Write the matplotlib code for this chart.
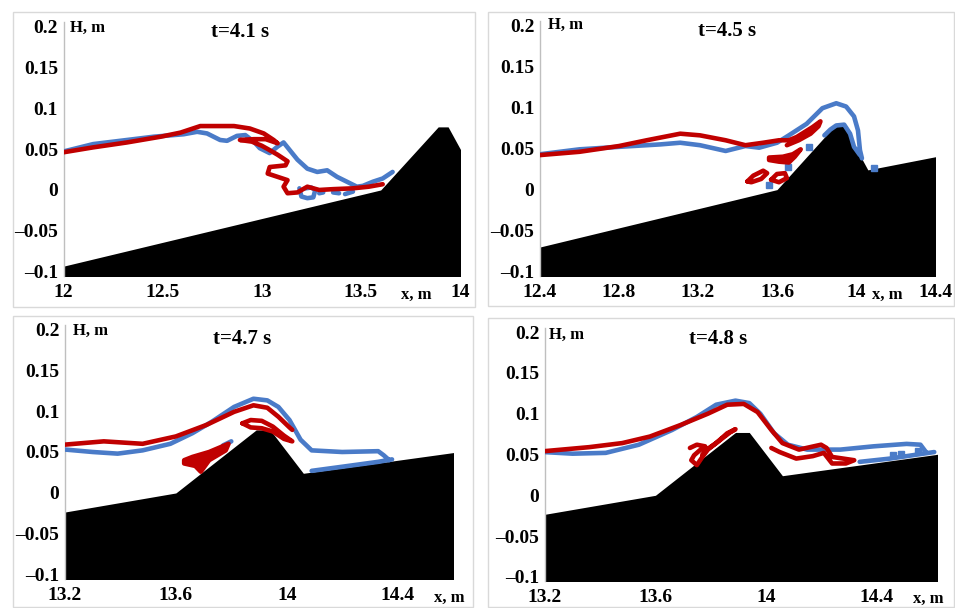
import numpy as np
import matplotlib
matplotlib.use("Agg")
import matplotlib.pyplot as plt
from matplotlib.patches import Rectangle

nan = np.nan

# ---------------- data ----------------
TITLES = ["t=4.1 s", "t=4.5 s", "t=4.7 s", "t=4.8 s"]
XLIMS = [(12.0, 14.0), (12.4, 14.4), (13.2, 14.6), (13.2, 14.62)]
XTICKS = [[12, 12.5, 13, 13.5, 14],
          [12.4, 12.8, 13.2, 13.6, 14, 14.4],
          [13.2, 13.6, 14, 14.4],
          [13.2, 13.6, 14, 14.4]]
XTICKLABELS = [["12", "12.5", "13", "13.5", "14"],
               ["12.4", "12.8", "13.2", "13.6", "14", "14.4"],
               ["13.2", "13.6", "14", "14.4"],
               ["13.2", "13.6", "14", "14.4"]]
YTICKS = [-0.1, -0.05, 0, 0.05, 0.1, 0.15, 0.2]
YTICKLABELS = ["\u20130.1", "\u20130.05", "0", "0.05", "0.1", "0.15", "0.2"]

# bottom profile (black)
BOTTOM_X = [11.9, 12.0, 13.6, 13.89, 13.94, 14.06, 14.7]
BOTTOM_Y = [-0.0988, -0.093, 0.0, 0.077, 0.077, 0.024, 0.0539]

# panel 1, t=4.1 s
P1_BLUE_X = [12.0, 12.15, 12.32, 12.455, 12.606, 12.674, 12.724, 12.79, 12.825, 12.875, 12.917, 12.96,
             12.99, 13.04, 13.08, 13.11, 13.14, 13.18, 13.23, 13.28, 13.33, 13.38, 13.43, 13.48, 13.51,
             13.56, 13.61, 13.66,
             nan, 13.19, 13.20, 13.23, 13.26, 13.27, 13.25, 13.22,
             nan, 13.29, 13.31, nan, 13.36, 13.39, nan, 13.42, 13.46]
P1_BLUE_Y = [0.047, 0.056, 0.061, 0.065, 0.068, 0.071, 0.069, 0.061, 0.060, 0.066, 0.067, 0.059,
             0.051, 0.045, 0.053, 0.058, 0.049, 0.037, 0.026, 0.022, 0.024, 0.016, 0.010, 0.004, 0.005,
             0.010, 0.014, 0.022,
             nan, 0.002, -0.008, -0.010, -0.009, 0.000, 0.003, 0.002,
             nan, -0.004, -0.003, nan, -0.003, -0.004, nan, -0.005, -0.002]
P1_RED_X = [12.0, 12.15, 12.32, 12.49, 12.59, 12.69, 12.86, 12.94, 13.01, 13.06, 13.08, 13.02, 12.96,
            12.89, 12.95, 13.00, 13.03, 13.08, 13.13, 13.12, 13.04, 13.03, 13.08, 13.13, 13.11, 13.13,
            13.18, 13.23, 13.29, 13.36, 13.46, 13.54, 13.61]
P1_RED_Y = [0.046, 0.052, 0.058, 0.065, 0.070, 0.078, 0.078, 0.075, 0.069, 0.061, 0.057, 0.062, 0.062,
            0.061, 0.059, 0.054, 0.050, 0.043, 0.035, 0.030, 0.028, 0.020, 0.016, 0.012, 0.004, -0.004,
            -0.003, 0.004, 0.000, 0.001, 0.002, 0.004, 0.007]

# panel 2, t=4.5 s
P2_BLUE_X = [12.4, 12.6, 12.8, 13.01, 13.11, 13.21, 13.34, 13.44, 13.51, 13.60, 13.66, 13.75, 13.83,
             13.90, 13.95, 13.99, 14.01, 14.02, 14.03,
             nan, 13.84, 13.87, 13.90, 13.94, 13.97, 13.99, 14.02]
P2_BLUE_Y = [0.043, 0.049, 0.052, 0.055, 0.057, 0.054, 0.047, 0.053, 0.051, 0.057, 0.066, 0.080, 0.099,
             0.105, 0.101, 0.089, 0.072, 0.048, 0.038,
             nan, 0.066, 0.073, 0.078, 0.079, 0.068, 0.052, 0.042]
P2_BLUE_DOTS_X = [13.56, 13.654, 13.764, 14.09]
P2_BLUE_DOTS_Y = [0.006, 0.028, 0.052, 0.026]
P2_RED_X = [12.4, 12.6, 12.8, 12.94, 13.11, 13.21, 13.34, 13.44, 13.53, 13.61, 13.66, 13.70, 13.78,
            13.82, 13.81, 13.77, 13.71, 13.65]
P2_RED_Y = [0.042, 0.046, 0.053, 0.060, 0.068, 0.066, 0.060, 0.054, 0.057, 0.060, 0.060, 0.064, 0.076,
            0.083, 0.077, 0.068, 0.060, 0.054]
P2_RED_BLOB1_X = [13.56, 13.63, 13.68, 13.72, 13.69, 13.66, 13.61, 13.56]
P2_RED_BLOB1_Y = [0.039, 0.040, 0.043, 0.049, 0.040, 0.033, 0.034, 0.036]
P2_RED_LOOPS_X = [13.45, 13.48, 13.53, 13.55, 13.52, 13.47, 13.45,
                  nan, 13.57, 13.60, 13.64, 13.65, 13.61, 13.57]
P2_RED_LOOPS_Y = [0.010, 0.017, 0.023, 0.020, 0.013, 0.009, 0.010,
                  nan, 0.012, 0.019, 0.020, 0.014, 0.009, 0.012]

# panel 3, t=4.7 s
P3_BLUE_X = [13.2, 13.30, 13.39, 13.48, 13.58, 13.66, 13.73, 13.81, 13.88, 13.93, 13.97, 14.01, 14.05,
             14.09, 14.20, 14.33, 14.35, 14.37,
             nan, 14.09, 14.20, 14.33, 14.38,
             nan, 13.77, 13.80]
P3_BLUE_Y = [0.053, 0.050, 0.048, 0.052, 0.060, 0.073, 0.087, 0.105, 0.115, 0.113, 0.105, 0.089, 0.065,
             0.052, 0.050, 0.051, 0.046, 0.040,
             nan, 0.027, 0.032, 0.038, 0.041,
             nan, 0.058, 0.063]
P3_RED_X = [13.2, 13.34, 13.48, 13.60, 13.71, 13.81, 13.88, 13.93, 13.97, 14.01, 14.02,
            nan, 13.84, 13.87, 13.91, 13.95, 13.99, 14.02, 13.99, 13.95, 13.91, 13.87, 13.84]
P3_RED_Y = [0.059, 0.063, 0.060, 0.069, 0.083, 0.099, 0.107, 0.104, 0.093, 0.080, 0.077,
            nan, 0.085, 0.089, 0.088, 0.081, 0.070, 0.063, 0.066, 0.075, 0.079, 0.080, 0.085]
P3_RED_BLOB_X = [13.63, 13.66, 13.72, 13.79, 13.78, 13.72, 13.69, 13.67, 13.63]
P3_RED_BLOB_Y = [0.040, 0.044, 0.050, 0.060, 0.052, 0.040, 0.026, 0.033, 0.036]

# panel 4, t=4.8 s
P4_BLUE_X = [13.195, 13.30, 13.42, 13.54, 13.66, 13.75, 13.82, 13.89, 13.94, 13.98, 14.03, 14.08, 14.15,
             14.27, 14.39, 14.51, 14.56, 14.58,
             nan, 14.34, 14.45, 14.55, 14.61]
P4_BLUE_Y = [0.053, 0.051, 0.052, 0.062, 0.080, 0.096, 0.111, 0.116, 0.113, 0.100, 0.076, 0.062, 0.056,
             0.056, 0.060, 0.063, 0.062, 0.053,
             nan, 0.041, 0.045, 0.050, 0.053]
P4_BLUE_DOTS_X = [14.46, 14.49, 14.55]
P4_BLUE_DOTS_Y = [0.049, 0.050, 0.054]
P4_RED_X = [13.195, 13.36, 13.48, 13.58, 13.69, 13.79, 13.86, 13.92, 13.97, 14.02, 14.06, 14.12, 14.20,
            14.22, 14.24, 14.28, 14.32, 14.29, 14.24, 14.21, 14.17, 14.11, 14.05, 14.02,
            nan, 13.725, 13.75, 13.78, 13.76, 13.74, 13.73, 13.75, 13.77, 13.79, 13.82, 13.86, 13.89,
            13.87, 13.82, 13.79, 13.77]
P4_RED_Y = [0.054, 0.059, 0.064, 0.072, 0.086, 0.100, 0.111, 0.112, 0.102, 0.080, 0.064, 0.056, 0.062,
            0.058, 0.047, 0.045, 0.043, 0.039, 0.039, 0.052, 0.048, 0.045, 0.053, 0.058,
            nan, 0.058, 0.062, 0.060, 0.055, 0.049, 0.043, 0.037, 0.047, 0.056, 0.064, 0.076, 0.081,
            0.077, 0.064, 0.057, 0.050]

BLUE_X = [P1_BLUE_X, P2_BLUE_X, P3_BLUE_X, P4_BLUE_X]
BLUE_Y = [P1_BLUE_Y, P2_BLUE_Y, P3_BLUE_Y, P4_BLUE_Y]
RED_X = [P1_RED_X, P2_RED_X, P3_RED_X, P4_RED_X]
RED_Y = [P1_RED_Y, P2_RED_Y, P3_RED_Y, P4_RED_Y]
DOTS = {1: (P2_BLUE_DOTS_X, P2_BLUE_DOTS_Y), 3: (P4_BLUE_DOTS_X, P4_BLUE_DOTS_Y)}
RED_BLOBS = {1: [(P2_RED_BLOB1_X, P2_RED_BLOB1_Y)], 2: [(P3_RED_BLOB_X, P3_RED_BLOB_Y)]}
RED_EXTRA = {1: (P2_RED_LOOPS_X, P2_RED_LOOPS_Y)}

# ---------------- layout ----------------
W, H = 955, 608
BLUE = "#4A7BC8"
RED = "#C00000"
FONT = "Liberation Serif"
LW = 3.3

# axes boxes in pixels: left, right, top, bottom
AX_PX = [(63.5, 460, 22, 276), (540, 935, 21, 276), (65, 453, 325, 579), (545, 937, 328, 581)]
FRAME_PX = [(13, 12, 475, 307), (488, 12, 954, 306), (13, 316, 473, 607), (488, 318, 954, 607)]
TITLE_POS = [(0.445, 0.96), (0.473, 0.962), (0.457, 0.946), (0.442, 0.958)]
HLAB_POS = [(0.016, 0.977), (0.021, 0.984), (0.02, 0.976), (0.011, 0.971)]
XLAB_POS = [(0.889, -0.075), (0.88, -0.074), (0.991, -0.075), (0.978, -0.069)]

fig = plt.figure(figsize=(W / 100, H / 100), dpi=100)
fig.patch.set_facecolor("white")

for (x0, y0, x1, y1) in FRAME_PX:
    fig.add_artist(Rectangle((x0 / W, 1 - y1 / H), (x1 - x0) / W, (y1 - y0) / H,
                             transform=fig.transFigure, fill=False, edgecolor="#D9D9D9", lw=1.0))

for i in range(4):
    l, r, t, b = AX_PX[i]
    ax = fig.add_axes([l / W, 1 - b / H, (r - l) / W, (b - t) / H])
    ax.set_xlim(*XLIMS[i])
    ax.set_ylim(-0.105, 0.205)
    ax.fill_between(BOTTOM_X, BOTTOM_Y, -0.2, color="black", lw=0, zorder=1)
    ax.plot(BLUE_X[i], BLUE_Y[i], color=BLUE, lw=LW, solid_capstyle="round",
            solid_joinstyle="round", zorder=3)
    ax.plot(RED_X[i], RED_Y[i], color=RED, lw=LW, solid_capstyle="round",
            solid_joinstyle="round", zorder=4)
    if i in DOTS:
        ax.plot(DOTS[i][0], DOTS[i][1], ls="none", marker="s", ms=4, color=BLUE, zorder=3)
    if i in RED_EXTRA:
        ax.plot(RED_EXTRA[i][0], RED_EXTRA[i][1], color=RED, lw=LW, solid_capstyle="round",
                solid_joinstyle="round", zorder=4)
    for bx, by in RED_BLOBS.get(i, []):
        ax.fill(bx, by, facecolor=RED, edgecolor=RED, lw=LW, joinstyle="round", zorder=4)

    for s in ["top", "right", "bottom"]:
        ax.spines[s].set_visible(False)
    ax.spines["left"].set_color("#BFBFBF")
    ax.spines["left"].set_linewidth(1.0)
    ax.set_xticks(XTICKS[i])
    ax.set_xticklabels(XTICKLABELS[i], fontfamily=FONT, fontweight="bold", fontsize=14)
    ax.set_yticks(YTICKS)
    ax.set_yticklabels(YTICKLABELS, fontfamily=FONT, fontweight="bold", fontsize=14)
    ax.tick_params(axis="both", length=0)
    ax.tick_params(axis="x", pad=6)
    ax.tick_params(axis="y", pad=4)
    ax.set_facecolor("none")

    ax.text(*TITLE_POS[i], TITLES[i], transform=ax.transAxes, ha="center", va="center",
            fontfamily=FONT, fontweight="bold", fontsize=15)
    ax.text(*HLAB_POS[i], "H, m", transform=ax.transAxes, ha="left", va="center",
            fontfamily=FONT, fontweight="bold", fontsize=12)
    ax.text(*XLAB_POS[i], "x, m", transform=ax.transAxes, ha="center", va="center",
            fontfamily=FONT, fontweight="bold", fontsize=12, clip_on=False)

fig.savefig("out.png", dpi=100, facecolor="white")
